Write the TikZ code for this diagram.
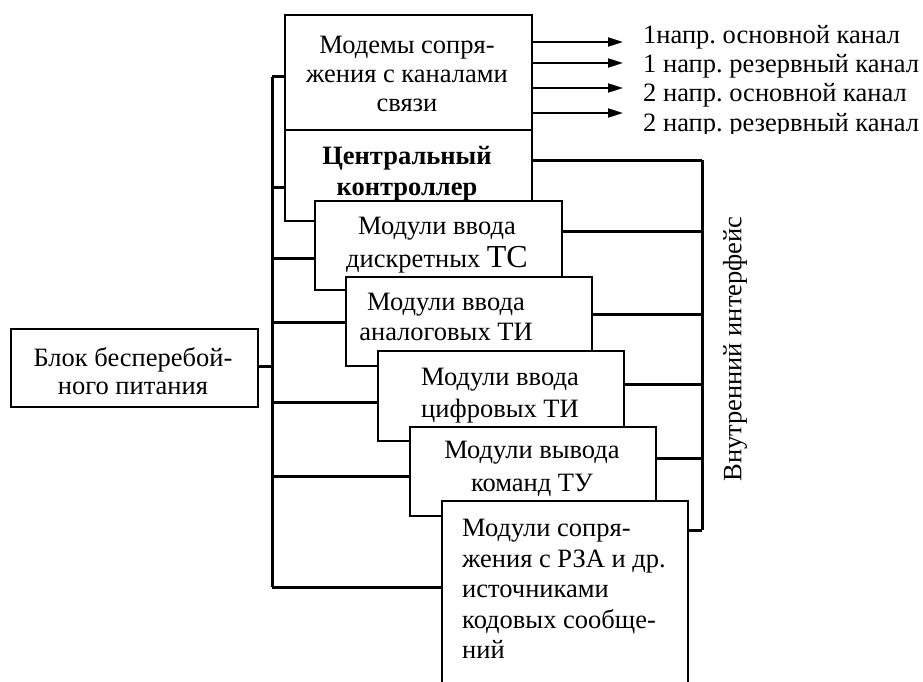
\documentclass[tikz,border=0pt]{standalone}
\usepackage{fontspec}
\setmainfont{Liberation Serif}
\usetikzlibrary{arrows.meta}
\frenchspacing
\begin{document}
\begin{tikzpicture}[x=1pt,y=-1pt,
  box/.style={draw=black,fill=white,line width=1.7pt,inner sep=0pt,anchor=north west},
  txt/.style={inner sep=0pt,align=center,font=\fontsize{26.5}{30}\selectfont},
  lbl/.style={inner sep=0pt,anchor=base west,font=\fontsize{26.5}{29}\selectfont},
  bus/.style={line width=3pt},
  stub/.style={line width=3pt},
  arr/.style={line width=2pt,-{Triangle[length=15pt,width=9pt]}}]
\useasboundingbox (0,0) rectangle (923,682);
\clip (0,0) rectangle (923,682);
% boxes
\node[box,minimum width=247pt,minimum height=115pt] (modem) at (284,14) {};
\node[box,minimum width=247pt,minimum height=91pt] (cpu) at (284,129) {};
\node[box,minimum width=247pt,minimum height=89pt] (ts) at (314,200) {};
\node[box,minimum width=246pt,minimum height=89pt] (ati) at (345,276) {};
\node[box,minimum width=246pt,minimum height=90pt] (dti) at (377,350) {};
\node[box,minimum width=246pt,minimum height=89pt] (tu) at (409,426) {};
\node[box,minimum width=246pt,minimum height=220pt] (rza) at (441,500) {};
\node[box,minimum width=247pt,minimum height=78pt] (ups) at (10,328) {};
% texts
\node[txt,font=\fontsize{26.5}{29}\selectfont] (tmodem) at (407,74) {Модемы сопря-\\жения с каналами\\связи};
\node[txt,font=\bfseries\fontsize{26.5}{31}\selectfont] (tcpu) at (407,174) {Центральный\\контроллер};
\node[txt,font=\fontsize{26.5}{33}\selectfont] (tts) at (437,245) {Модули ввода\\дискретных {\fontsize{32}{33}\selectfont ТС}};
\node[txt] (tati) at (446,317) {Модули ввода\\аналоговых ТИ};
\node[txt,font=\fontsize{26.5}{32}\selectfont] (tdti) at (500,396) {Модули ввода\\цифровых ТИ};
\node[txt,font=\fontsize{26.5}{33}\selectfont] (ttu) at (532,469) {Модули вывода\\команд ТУ};
\node[txt,align=left,anchor=west,font=\fontsize{26.5}{30.5}\selectfont] (trza) at (462,589) {Модули сопря-\\жения с РЗА и др.\\источниками\\кодовых сообще-\\ний};
\node[txt,font=\fontsize{26.5}{28}\selectfont] (tups) at (133,371) {Блок бесперебой-\\ного питания};
\node[inner sep=0pt,rotate=90,font=\fontsize{26.5}{28}\selectfont] (iface) at (735,349) {Внутренний интерфейс};
% left bus
\coordinate (lt) at (272,77);
\coordinate (lb) at (272,587);
\draw[bus] (lt) -- (lb);
\draw[stub] (lt) -- (modem.west |- lt);
\draw[stub] (272,187) -- (cpu.west |- 0,187);
\draw[stub] (272,258) -- (ts.west |- 0,258);
\draw[stub] (272,322) -- (ati.west |- 0,322);
\draw[stub] (272,402) -- (dti.west |- 0,402);
\draw[stub] (272,476) -- (tu.west |- 0,476);
\draw[stub] (lb) -- (rza.west |- lb);
\draw[stub] (ups.east |- 0,366) -- (272,366);
% right bus
\coordinate (rt) at (702,160);
\coordinate (rb) at (702,530);
\draw[bus] (rt) -- (rb);
\draw[stub] (cpu.east |- rt) -- (rt);
\draw[stub] (ts.east |- 0,231) -- (702,231);
\draw[stub] (ati.east |- 0,314) -- (702,314);
\draw[stub] (dti.east |- 0,384) -- (702,384);
\draw[stub] (tu.east |- 0,458) -- (702,458);
\draw[stub] (rza.east |- rb) -- (rb);
% arrows and labels
\coordinate (a1) at (623,42);
\coordinate (a2) at (623,63);
\coordinate (a3) at (623,88);
\coordinate (a4) at (623,113);
\draw[arr] (modem.east |- a1) -- (a1);
\draw[arr] (modem.east |- a2) -- (a2);
\draw[arr] (modem.east |- a3) -- (a3);
\draw[arr] (modem.east |- a4) -- (a4);
\node[lbl] (l1) at (643,44) {1напр. основной канал};
\node[lbl] (l2) at (643,73) {1 напр. резервный канал};
\node[lbl] (l3) at (643,102) {2 напр. основной канал};
\begin{scope}
\clip (600,108) rectangle (923,133.5);
\node[lbl] (l4) at (643,131.5) {2 напр. резервный канал};
\end{scope}
\end{tikzpicture}
\end{document}
